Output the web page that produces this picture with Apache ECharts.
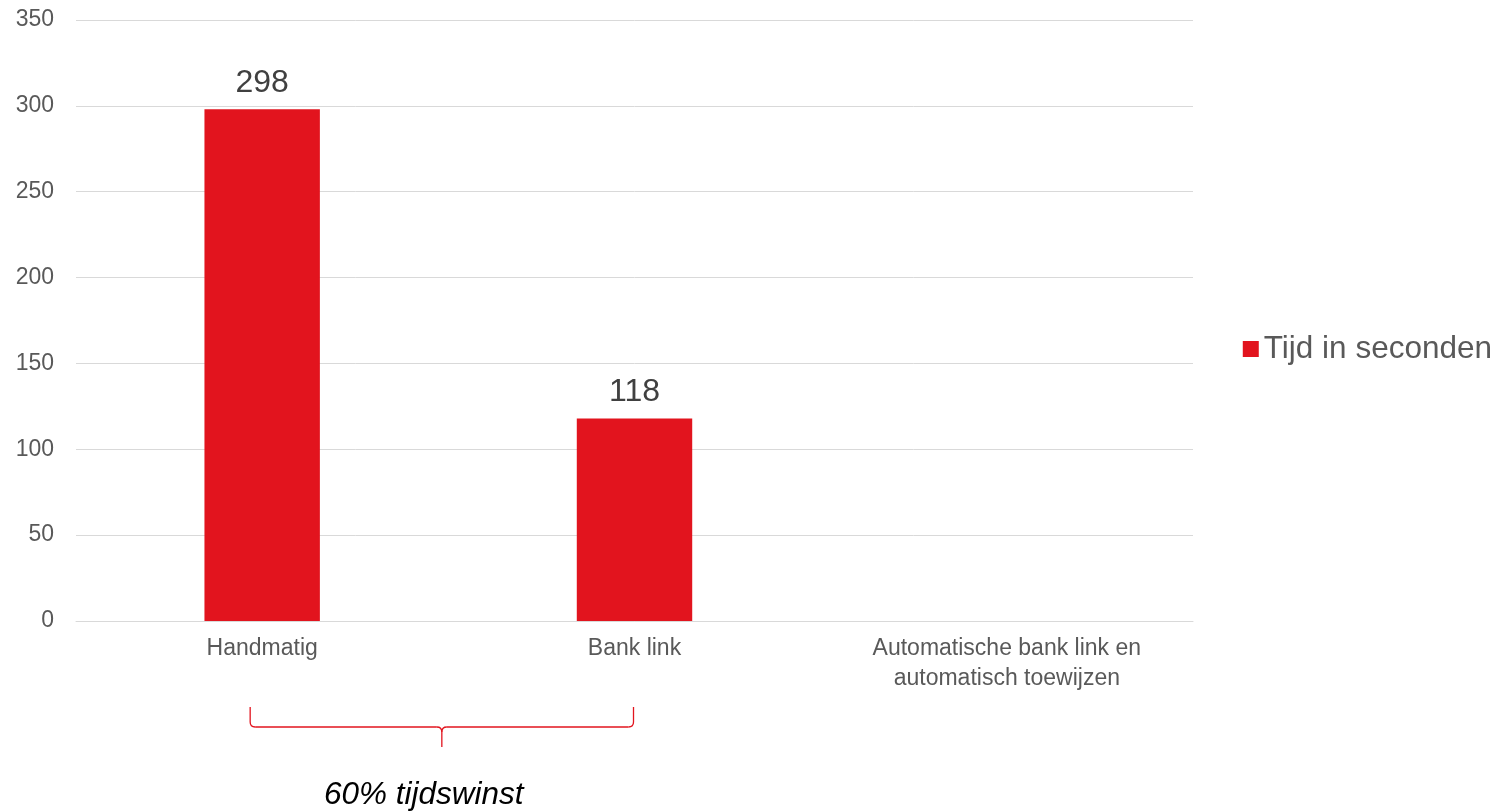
<!DOCTYPE html>
<html><head><meta charset="utf-8">
<script src="https://cdn.jsdelivr.net/npm/echarts@6/dist/echarts.min.js"></script>
<style>html,body{margin:0;padding:0;background:#fff}#c{width:1501px;height:812px}</style>
</head><body><div id="c"></div>
<script>
const categories = ['Handmatig', 'Bank link', 'Automatische bank link en\nautomatisch toewijzen'];
const values = [298, 118, null];
const seriesName = 'Tijd in seconden';
const annotationText = '60% tijdswinst';

const chart = echarts.init(document.getElementById('c'));
const FONT = '"Liberation Sans", Arial, sans-serif';
chart.setOption({
  animation: false,
  textStyle: { fontFamily: FONT },
  grid: { left: 76, right: 308, top: 20, bottom: 191, containLabel: false },
  legend: {
    right: 9, top: 333, orient: 'vertical', padding: 0,
    itemWidth: 16, itemHeight: 16, icon: 'rect',
    textStyle: { fontSize: 31.5, color: '#595959', fontFamily: FONT, padding: [0, 0, 0, 0] },
    data: [seriesName]
  },
  xAxis: {
    type: 'category', data: categories,
    axisLine: { lineStyle: { color: '#d9d9d9', width: 1 } },
    axisTick: { show: false },
    axisLabel: { fontSize: 23, color: '#595959', margin: 13, lineHeight: 30, fontFamily: FONT, interval: 0 }
  },
  yAxis: {
    type: 'value', min: 0, max: 350, interval: 50,
    splitLine: { lineStyle: { color: '#d9d9d9', width: 1 } },
    axisLabel: { fontSize: 23, color: '#595959', margin: 22, fontFamily: FONT, padding: [4, 0, 0, 0] },
    axisLine: { show: false }, axisTick: { show: false }
  },
  series: [{
    name: seriesName, type: 'bar', data: values, barWidth: '31%',
    itemStyle: { color: '#e2141e' },
    label: { show: true, position: 'top', fontSize: 32, color: '#404040', distance: 10, fontFamily: FONT }
  }]
});

const p0 = chart.convertToPixel({ xAxisIndex: 0 }, 0);
const p1 = chart.convertToPixel({ xAxisIndex: 0 }, 1);
const xl = p0 - 12, xr = p1 - 1, xm = (xl + xr) / 2;
const yt = 707, yb = 727, ytip = 747, r = 5;
const st = { stroke: '#e2141e', lineWidth: 1.3, fill: null };
const L = (x1, y1, x2, y2) => ({ type: 'line', shape: { x1, y1, x2, y2 }, style: st, silent: true });
const B = (x1, y1, cx, cy, x2, y2) => ({ type: 'bezierCurve', shape: { x1, y1, cpx1: cx, cpy1: cy, x2, y2 }, style: st, silent: true });
chart.setOption({
  graphic: [
    L(xl, yt, xl, yb - r),
    B(xl, yb - r, xl, yb, xl + r, yb),
    L(xl + r, yb, xm - r, yb),
    B(xm - r, yb, xm, yb, xm, yb + r),
    L(xm, yb + r, xm, ytip),
    B(xm, yb + r, xm, yb, xm + r, yb),
    L(xm + r, yb, xr - r, yb),
    B(xr - r, yb, xr, yb, xr, yb - r),
    L(xr, yb - r, xr, yt),
    { type: 'text', x: xm - 18, y: 795, style: { text: annotationText, font: 'italic 31.5px ' + FONT, fill: '#000', textAlign: 'center', textVerticalAlign: 'middle' } }
  ]
});
</script></body></html>
